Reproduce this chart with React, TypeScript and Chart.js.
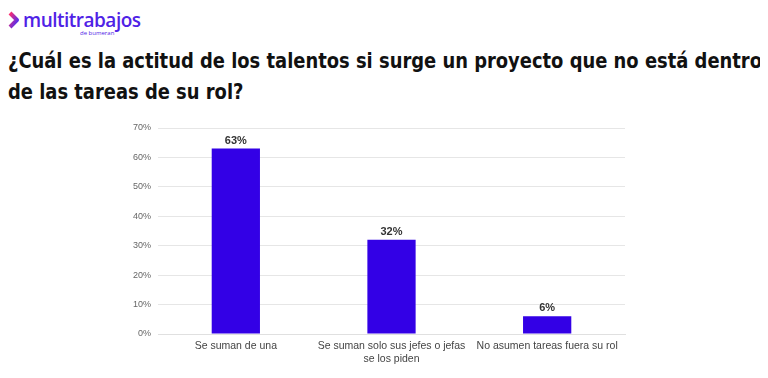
import React, { useEffect, useRef } from "react";
import { Chart, registerables } from "chart.js";

Chart.register(...registerables);

const categories: (string | string[])[] = [
  "Se suman de una",
  ["Se suman solo sus jefes o jefas", "se los piden"],
  "No asumen tareas fuera su rol",
];
const values: number[] = [63, 32, 6];
const yTicks: number[] = [0, 10, 20, 30, 40, 50, 60, 70];

const titleLines: string[] = [
  "¿Cuál es la actitud de los talentos si surge un proyecto que no está dentro",
  "de las tareas de su rol?",
];

const valueLabels = {
  id: "valueLabels",
  afterDatasetsDraw(chart: any) {
    const ctx = chart.ctx;
    const meta = chart.getDatasetMeta(0);
    ctx.save();
    ctx.font = "bold 11px 'Liberation Sans', Arial, sans-serif";
    ctx.fillStyle = "#333";
    ctx.textAlign = "center";
    ctx.textBaseline = "alphabetic";
    meta.data.forEach((bar: any, i: number) => {
      ctx.fillText(values[i] + "%", bar.x, bar.y - 5);
    });
    ctx.restore();
  },
};

export default function App() {
  const ref = useRef<HTMLCanvasElement>(null);
  const titleRef = useRef<HTMLDivElement>(null);
  const line1Ref = useRef<HTMLSpanElement>(null);

  useEffect(() => {
    if (titleRef.current && line1Ref.current) {
      const w = line1Ref.current.getBoundingClientRect().width;
      if (w > 0) titleRef.current.style.transform = `scaleX(${754 / w})`;
    }
    if (!ref.current) return;
    const chart = new Chart(ref.current, {
      type: "bar",
      data: {
        labels: categories,
        datasets: [
          {
            data: values,
            backgroundColor: "#3300E6",
            categoryPercentage: 1,
            barPercentage: 0.31,
          },
        ],
      },
      options: {
        animation: false,
        responsive: false,
        maintainAspectRatio: false,
        layout: { padding: { top: 18, right: 15, left: 0, bottom: 0 } },
        plugins: { legend: { display: false }, tooltip: { enabled: false } },
        scales: {
          x: {
            grid: { display: false, drawTicks: false },
            border: { color: "#e0e0e0" },
            afterFit: (scale: any) => {
              scale.height = 44;
            },
            ticks: {
              color: "#444",
              font: { family: "'Liberation Sans', Arial, sans-serif", size: 10.5 },
              maxRotation: 0,
              autoSkip: false,
              padding: 6,
            },
          },
          y: {
            min: 0,
            max: 70,
            afterBuildTicks: (scale: any) => {
              scale.ticks = yTicks.map((v) => ({ value: v }));
            },
            afterFit: (scale: any) => {
              scale.width = 58;
            },
            grid: { color: "#e6e6e6", drawTicks: false },
            border: { display: false },
            ticks: {
              color: "#666",
              padding: 7,
              font: { family: "'Liberation Sans', Arial, sans-serif", size: 9 },
              callback: (v: any) => v + "%",
            },
          },
        },
      },
      plugins: [valueLabels],
    });
    return () => chart.destroy();
  }, []);

  return (
    <div style={{ position: "relative", width: 768, height: 378, background: "#fff", margin: -8, overflow: "hidden" }}>
      <div style={{ position: "absolute", left: 8, top: 9 }}>
        <svg width="12" height="18" viewBox="0 0 12 18" style={{ position: "absolute", left: 0, top: 2 }}>
          <defs>
            <linearGradient id="g" x1="0" y1="0" x2="1" y2="1">
              <stop offset="0" stopColor="#ff2d6f" />
              <stop offset="1" stopColor="#3b2dff" />
            </linearGradient>
          </defs>
          <path d="M2 2 L9 9 L2 16" stroke="url(#g)" strokeWidth="4" fill="none" strokeLinejoin="round" />
        </svg>
        <div style={{ position: "absolute", left: 15, top: -2, fontFamily: "'Open Sans', sans-serif", fontWeight: 600, fontSize: 19, color: "#4f22e6", whiteSpace: "nowrap", letterSpacing: -0.5 }}>
          multitrabajos
        </div>
        <div style={{ position: "absolute", left: 72, top: 20, fontFamily: "'Open Sans', sans-serif", fontSize: 6, color: "#4f22e6", whiteSpace: "nowrap" }}>
          de bumeran
        </div>
      </div>
      <div
        ref={titleRef}
        style={{
          position: "absolute",
          left: 8,
          top: 45,
          width: 1200,
          transformOrigin: "0 0",
          fontFamily: "'DejaVu Sans', sans-serif",
          fontStretch: "condensed",
          fontWeight: "bold",
          fontSize: 22,
          lineHeight: "31px",
          color: "#111",
        }}
      >
        <div style={{ whiteSpace: "nowrap" }}><span ref={line1Ref}>{titleLines[0]}</span></div>
        <div style={{ whiteSpace: "nowrap" }}>{titleLines[1]}</div>
      </div>
      <canvas ref={ref} width={540} height={268} style={{ position: "absolute", left: 100, top: 110, width: 540, height: 268 }} />
    </div>
  );
}
